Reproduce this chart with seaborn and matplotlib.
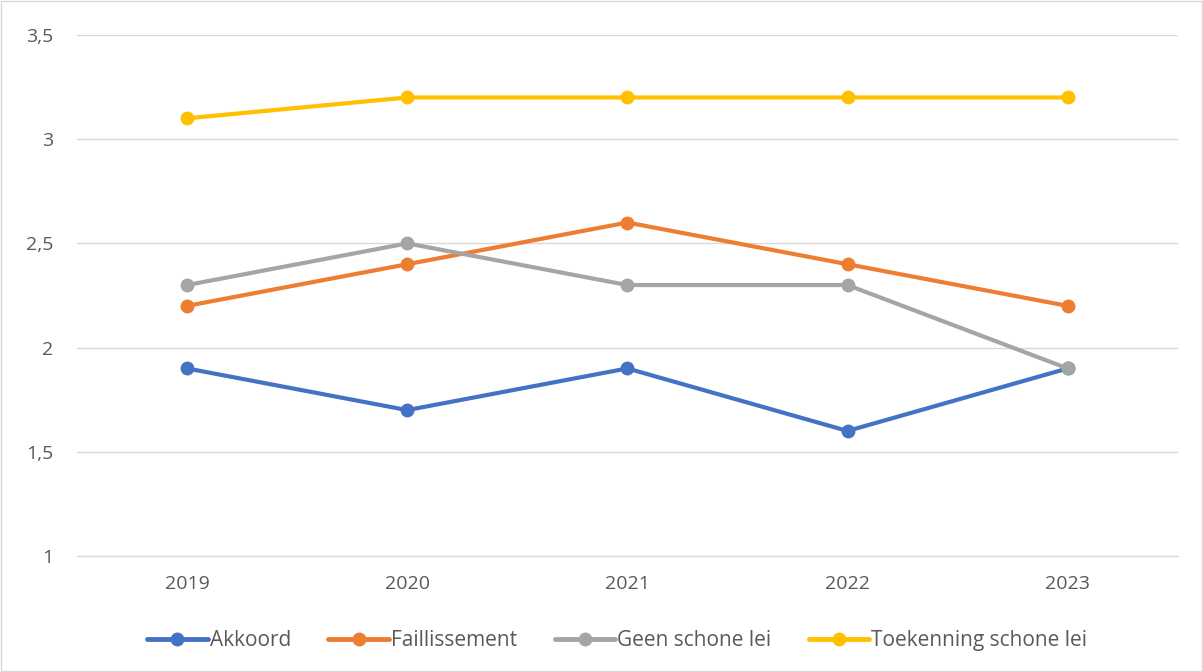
import matplotlib
matplotlib.use("Agg")
import matplotlib.pyplot as plt
import seaborn as sns
import pandas as pd

years = ["2019", "2020", "2021", "2022", "2023"]
series_names = ["Akkoord", "Faillissement", "Geen schone lei", "Toekenning schone lei"]
akkoord = [1.9, 1.7, 1.9, 1.6, 1.9]
faillissement = [2.2, 2.4, 2.6, 2.4, 2.2]
geen_schone_lei = [2.3, 2.5, 2.3, 2.3, 1.9]
toekenning_schone_lei = [3.1, 3.2, 3.2, 3.2, 3.2]
colors = ["#4472C4", "#ED7D31", "#A5A5A5", "#FFC000"]
yticks = [1, 1.5, 2, 2.5, 3, 3.5]
ytick_labels = ["1", "1,5", "2", "2,5", "3", "3,5"]

values = [akkoord, faillissement, geen_schone_lei, toekenning_schone_lei]
rows = []
for name, vals in zip(series_names, values):
    for i, (y, v) in enumerate(zip(years, vals)):
        rows.append({"idx": i, "year": y, "serie": name, "value": v})
df = pd.DataFrame(rows)

sns.set_theme(style="white")
plt.rcParams["font.family"] = ["Open Sans", "DejaVu Sans"]

fig = plt.figure(figsize=(12.03, 6.72), dpi=100)
ax = fig.add_axes([0.064, 0.1726, 0.915, 0.7754])

sns.lineplot(data=df, x="idx", y="value", hue="serie", hue_order=series_names,
             palette=colors, marker="o", markersize=10, markeredgewidth=0,
             linewidth=3, ax=ax, legend=False, zorder=3)

ax.set_xlim(-0.5, 4.5)
ax.set_ylim(1, 3.5)
ax.set_xticks(range(len(years)))
ax.set_xticklabels(years)
ax.set_yticks(yticks)
ax.set_yticklabels(ytick_labels)
ax.set_xlabel("")
ax.set_ylabel("")
ax.grid(axis="y", color="#D9D9D9", linewidth=1)
ax.grid(axis="x", visible=False)
for s in ["top", "right", "left"]:
    ax.spines[s].set_visible(False)
ax.spines["bottom"].set_color("#D9D9D9")
ax.spines["bottom"].set_linewidth(1)
ax.tick_params(axis="both", length=0, labelsize=14, colors="#595959")
ax.tick_params(axis="x", pad=14)
ax.tick_params(axis="y", pad=17)

handles = [plt.Line2D([0], [0], color=c, lw=3.5, marker="o", markersize=10,
                      markeredgewidth=0, solid_capstyle="round") for c in colors]
fig.legend(handles, series_names, loc="center", bbox_to_anchor=(0.513, 0.047),
           ncol=4, frameon=False, fontsize=15, handlelength=2.9,
           columnspacing=1.8, handletextpad=0.1, labelcolor="#595959")

fig.patches.append(plt.Rectangle((0.0005, 0.0008), 0.999, 0.998, transform=fig.transFigure,
                                 fill=False, edgecolor="#D9D9D9", linewidth=1))

fig.savefig("out.png", dpi=100, facecolor="white")
